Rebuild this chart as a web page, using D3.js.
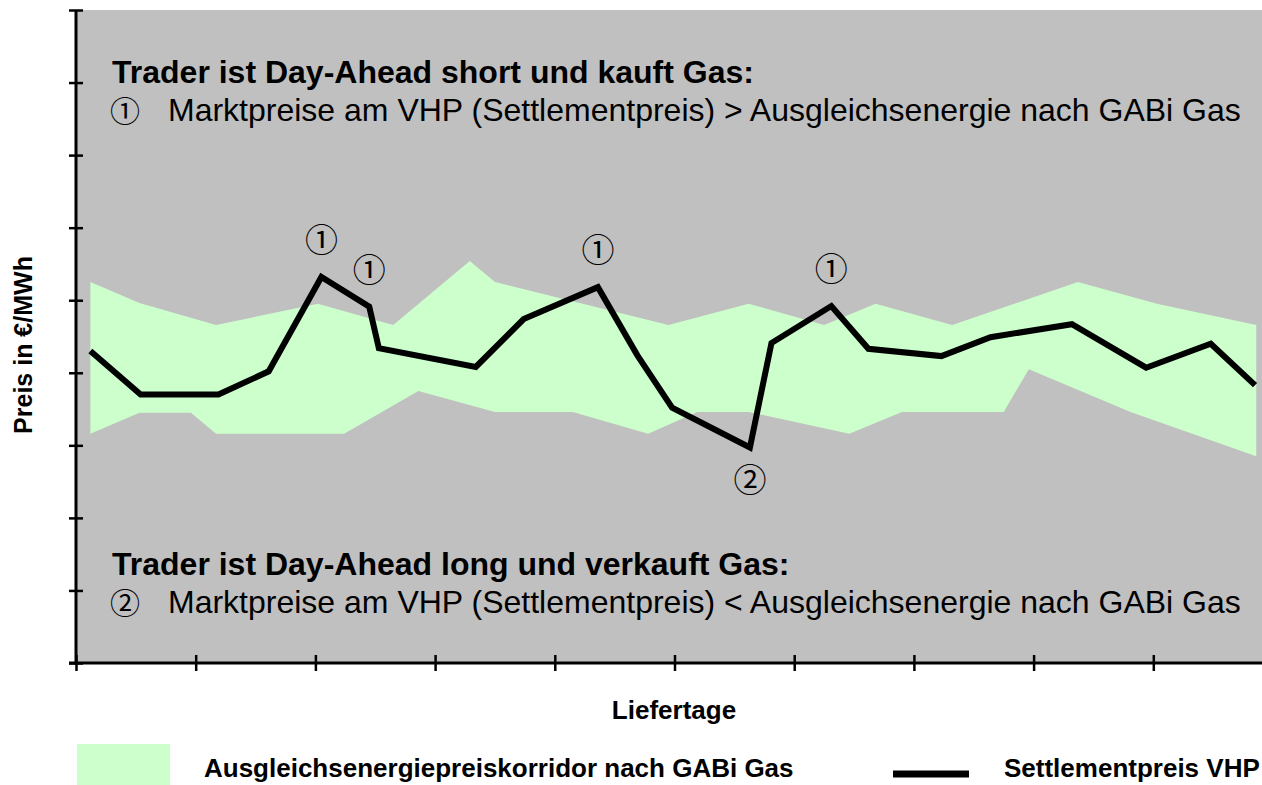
<!DOCTYPE html>
<html>
<head>
<meta charset="utf-8">
<script src="https://cdn.jsdelivr.net/npm/d3@7"></script>
<style>
  body { margin: 0; background: #fff; }
  svg { display: block; font-family: "Liberation Sans", Arial, sans-serif; }
  .circ { font-family: "Noto Sans CJK JP", "DejaVu Sans", sans-serif; }
</style>
</head>
<body>
<svg></svg>
<script>
const width = 1262;
const height = 785;

/* Settlementpreis VHP (x in Liefertagen, y in Achseneinheiten) */
const settleDays  = [0.12, 0.54, 1.19, 1.61, 2.05, 2.45, 2.53, 3.34, 3.74, 4.36, 4.69, 4.98, 5.63, 5.81, 6.31, 6.62, 7.23, 7.64, 8.32, 8.94, 9.48, 9.85];
const settlePrice = [4.30, 3.70, 3.70, 4.02, 5.32, 4.91, 4.34, 4.08, 4.74, 5.18, 4.24, 3.52, 2.97, 4.41, 4.92, 4.33, 4.23, 4.49, 4.67, 4.07, 4.40, 3.83];

/* Ausgleichsenergiepreiskorridor: obere und untere Grenze */
const upperDays  = [0.12, 0.53, 1.17, 2.02, 2.65, 3.29, 3.50, 4.95, 5.62, 6.25, 6.68, 7.32, 8.37, 9.03, 9.86];
const upperPrice = [5.25, 4.96, 4.66, 4.95, 4.66, 5.54, 5.25, 4.66, 4.95, 4.66, 4.95, 4.66, 5.25, 4.95, 4.66];
const lowerDays  = [0.12, 0.53, 0.96, 1.17, 2.24, 2.86, 3.50, 4.15, 4.78, 5.19, 5.62, 6.46, 6.90, 7.75, 7.96, 8.81, 9.86];
const lowerPrice = [3.16, 3.45, 3.45, 3.16, 3.16, 3.75, 3.46, 3.46, 3.16, 3.46, 3.46, 3.16, 3.46, 3.46, 4.05, 3.46, 2.85];

/* Markierungen am Settlementpreis */
const markIndex  = [4, 5, 9, 14, 12];
const markSymbol = ['\u2460', '\u2460', '\u2460', '\u2460', '\u2461'];

const xTickValues = d3.range(0, 10);
const yTickValues = d3.range(0, 10);

const headShort = 'Trader ist Day-Ahead short und kauft Gas:';
const textShort = 'Marktpreise am VHP (Settlementpreis) > Ausgleichsenergie nach GABi Gas';
const headLong  = 'Trader ist Day-Ahead long und verkauft Gas:';
const textLong  = 'Marktpreise am VHP (Settlementpreis) < Ausgleichsenergie nach GABi Gas';

const plot = { left: 76, top: 10, right: 1262, bottom: 663 };

const svg = d3.select('svg')
  .attr('width', width)
  .attr('height', height);

const x = d3.scaleLinear().domain([0, 10]).range([plot.left, plot.left + 1197]);
const y = d3.scaleLinear().domain([0, 9]).range([plot.bottom, plot.top]);

/* grey plot area */
svg.append('rect')
  .attr('x', plot.left)
  .attr('y', plot.top)
  .attr('width', plot.right - plot.left)
  .attr('height', plot.bottom - plot.top)
  .attr('fill', '#c0c0c0');

/* corridor polygon */
const upper = upperDays.map((d, i) => [d, upperPrice[i]]);
const lower = lowerDays.map((d, i) => [d, lowerPrice[i]]);
const corridor = upper.concat(lower.slice().reverse());

svg.append('path')
  .attr('d', d3.line().x(d => x(d[0])).y(d => y(d[1]))(corridor) + 'Z')
  .attr('fill', '#ccffcc');

/* settlement line */
const settle = settleDays.map((d, i) => [d, settlePrice[i]]);
svg.append('path')
  .attr('d', d3.line().x(d => x(d[0])).y(d => y(d[1]))(settle))
  .attr('fill', 'none')
  .attr('stroke', '#000')
  .attr('stroke-width', 6)
  .attr('stroke-linejoin', 'miter');

/* circled markers */
markIndex.forEach((idx, i) => {
  const below = markSymbol[i] === '\u2461';
  svg.append('text')
    .classed('circ', true)
    .attr('x', x(settleDays[idx]))
    .attr('y', y(settlePrice[idx]) + (below ? 33 : -37))
    .attr('dy', '0.36em')
    .attr('text-anchor', 'middle')
    .style('font-size', '33px')
    .text(markSymbol[i]);
});

/* explanation texts */
function block(yHead, head, sym, text) {
  svg.append('text')
    .attr('x', 112).attr('y', yHead)
    .style('font-size', '32px').style('font-weight', 'bold')
    .text(head);
  svg.append('text')
    .classed('circ', true)
    .attr('x', 110).attr('y', yHead + 39)
    .style('font-size', '30px')
    .text(sym);
  svg.append('text')
    .attr('x', 168).attr('y', yHead + 38)
    .style('font-size', '32px')
    .text(text);
}
block(83, headShort, '\u2460', textShort);
block(575, headLong, '\u2461', textLong);

/* axes */
const xAxis = svg.append('g')
  .attr('transform', `translate(0, ${plot.bottom})`)
  .call(d3.axisBottom(x).tickValues(xTickValues).tickSize(8).tickFormat(''));
xAxis.selectAll('.tick line').attr('y1', -8).attr('stroke-width', 2.5);
xAxis.select('.domain').attr('d', `M${plot.left - 7},0H${width}`).attr('stroke-width', 3);

const yAxis = svg.append('g')
  .attr('transform', `translate(${plot.left}, 0)`)
  .call(d3.axisLeft(y).tickValues(yTickValues).tickSize(7).tickFormat(''));
yAxis.selectAll('.tick line').attr('x1', 7).attr('stroke-width', 2.5);
yAxis.select('.domain').attr('d', `M0,${plot.top}V${plot.bottom}`).attr('stroke-width', 3);

/* axis titles */
svg.append('text')
  .attr('x', 674).attr('y', 719)
  .attr('text-anchor', 'middle')
  .style('font-size', '26px').style('font-weight', 'bold')
  .text('Liefertage');

svg.append('text')
  .attr('transform', 'translate(32, 345) rotate(-90)')
  .attr('text-anchor', 'middle')
  .style('font-size', '25px').style('font-weight', 'bold')
  .text('Preis in €/MWh');

/* legend */
svg.append('rect')
  .attr('x', 77).attr('y', 744)
  .attr('width', 93).attr('height', 45)
  .attr('fill', '#ccffcc');
svg.append('text')
  .attr('x', 204).attr('y', 777)
  .style('font-size', '26px').style('font-weight', 'bold')
  .text('Ausgleichsenergiepreiskorridor nach GABi Gas');
svg.append('line')
  .attr('x1', 893).attr('x2', 969)
  .attr('y1', 774).attr('y2', 774)
  .attr('stroke', '#000').attr('stroke-width', 7);
svg.append('text')
  .attr('x', 1004).attr('y', 777)
  .style('font-size', '26px').style('font-weight', 'bold')
  .text('Settlementpreis VHP');
</script>
</body>
</html>
